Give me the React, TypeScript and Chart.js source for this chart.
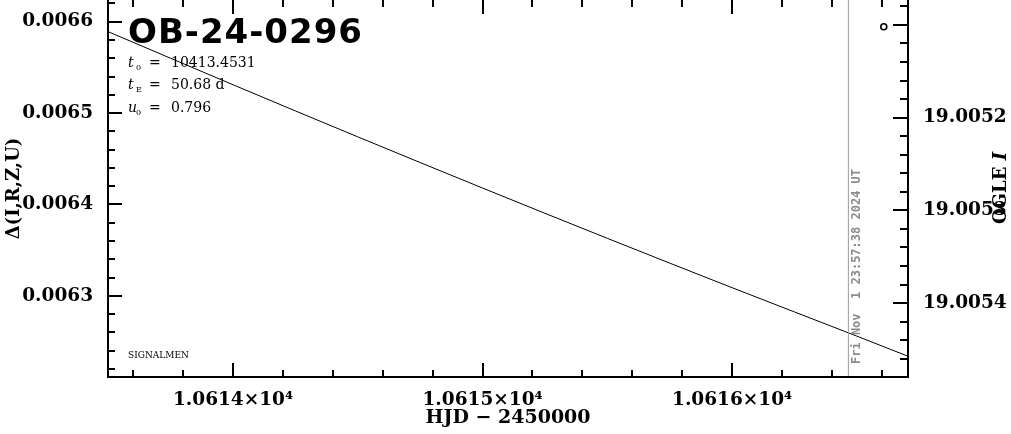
import React, { useEffect, useRef } from 'react';
import { Chart, registerables } from 'chart.js';

Chart.register(...registerables);

// ---- data ----
const modelHJD = [10613.5, 10614.0, 10614.5, 10615.0, 10615.5, 10616.0, 10616.5, 10616.705];
const modelDelta = [0.006589, 0.006531, 0.006474, 0.006418, 0.006363, 0.006309, 0.006256, 0.006234];
const ogleHJD = [10616.608];
const ogleMag = [19.005102];
const nowHJD = 10616.466;
const nowLabel = 'Fri Nov  1 23:57:38 2024 UT';
const eventName = 'OB-24-0296';
const paramSymbols = ['t', 't', 'u'];
const paramSubscripts = ['0', 'E', '0'];
const paramValues = ['10413.4531', '50.68 d', '0.796'];
const footerText = 'SIGNALMEN';

const xTickValues = [10614, 10615, 10616];
const xTickLabels = ['1.0614×10⁴', '1.0615×10⁴', '1.0616×10⁴'];
const yTickValues = [0.0063, 0.0064, 0.0065, 0.0066];
const yTickLabels = ['0.0063', '0.0064', '0.0065', '0.0066'];
const magTickValues = [19.0052, 19.0053, 19.0054];
const magTickLabels = ['19.0052', '19.0053', '19.0054'];

const xRange = [10613.499, 10616.705];
const yRange = [0.0062113, 0.0066237];
const magRange = [19.0050732, 19.0054797];

const xMajorStep = 1;
const xMinorStep = 0.2;
const yMajorStep = 0.0001;
const yMinorStep = 0.00002;

const TICK_FONT = { family: 'DejaVu Serif', weight: 'bold' as const, size: 18.5 };

function drawAxisTicks(
  min: number,
  max: number,
  major: number,
  minor: number,
  toPx: (v: number) => number,
  draw: (p: number, len: number) => void
) {
  const kStart = Math.ceil(min / minor - 1e-6);
  const kEnd = Math.floor(max / minor + 1e-6);
  for (let k = kStart; k <= kEnd; k++) {
    const v = k * minor;
    const r = v / major;
    const isMajor = Math.abs(r - Math.round(r)) < 1e-6;
    draw(toPx(v), isMajor ? 14 : 7);
  }
}

const framePlugin = {
  id: 'frameAndText',
  afterDraw(chart: any) {
    const { ctx, chartArea, scales } = chart;
    const { left, right, top, bottom } = chartArea;
    const xs = scales.x;
    const ys = scales.y;
    const ms = scales.y1;
    ctx.save();
    ctx.strokeStyle = '#000';
    ctx.lineWidth = 2;
    ctx.beginPath();
    ctx.moveTo(left, top - 2);
    ctx.lineTo(left, bottom);
    ctx.lineTo(right, bottom);
    ctx.lineTo(right, top - 2);
    ctx.stroke();

    ctx.lineWidth = 2;
    ctx.beginPath();
    drawAxisTicks(xs.min, xs.max, xMajorStep, xMinorStep, (v) => xs.getPixelForValue(v), (p, len) => {
      ctx.moveTo(Math.round(p), bottom);
      ctx.lineTo(Math.round(p), bottom - len);
      ctx.moveTo(Math.round(p), top);
      ctx.lineTo(Math.round(p), top + len);
    });
    drawAxisTicks(ys.min, ys.max, yMajorStep, yMinorStep, (v) => ys.getPixelForValue(v), (p, len) => {
      ctx.moveTo(left, Math.round(p));
      ctx.lineTo(left + len, Math.round(p));
    });
    drawAxisTicks(ms.min, ms.max, yMajorStep, yMinorStep, (v) => ms.getPixelForValue(v), (p, len) => {
      ctx.moveTo(right, Math.round(p));
      ctx.lineTo(right - len - 1, Math.round(p));
    });
    ctx.stroke();

    // event name
    ctx.fillStyle = '#000';
    ctx.textBaseline = 'alphabetic';
    ctx.textAlign = 'left';
    ctx.font = 'bold 34px "DejaVu Sans"';
    ctx.letterSpacing = '1px';
    ctx.fillText(eventName, 128, 43);
    ctx.letterSpacing = '0px';

    // parameters
    const baselines = [67, 89, 111.5];
    paramSymbols.forEach((s, i) => {
      const b = baselines[i];
      ctx.font = 'italic 14px "DejaVu Serif"';
      ctx.fillText(s, 128, b);
      ctx.font = '8px "DejaVu Serif"';
      ctx.fillText(paramSubscripts[i], 136, b + 3);
      ctx.font = '14px "DejaVu Serif"';
      ctx.fillText('=', 149, b);
      ctx.fillText(paramValues[i], 171, b);
    });

    // footer
    ctx.font = '9px "DejaVu Serif"';
    ctx.fillText(footerText, 128, 358);

    // current-time label
    const nx = xs.getPixelForValue(nowHJD);
    ctx.save();
    ctx.translate(nx + 12, bottom - 13);
    ctx.rotate(-Math.PI / 2);
    ctx.fillStyle = '#8c8c8c';
    ctx.font = 'bold 12px "DejaVu Sans Mono"';
    ctx.textBaseline = 'alphabetic';
    ctx.fillText(nowLabel, 0, 0);
    ctx.restore();

    // right axis title
    ctx.save();
    ctx.translate(1001, 188);
    ctx.rotate(-Math.PI / 2);
    ctx.fillStyle = '#000';
    ctx.textBaseline = 'middle';
    const a = 'OGLE ';
    ctx.font = 'bold 18px "DejaVu Serif"';
    const wa = ctx.measureText(a).width;
    ctx.font = 'italic bold 18px "DejaVu Serif"';
    const wb = ctx.measureText('I').width;
    const start = -(wa + wb) / 2;
    ctx.font = 'bold 18px "DejaVu Serif"';
    ctx.fillText(a, start, 0);
    ctx.font = 'italic bold 18px "DejaVu Serif"';
    ctx.fillText('I', start + wa, 0);
    ctx.restore();

    ctx.restore();
  },
};

function fixVertical(width: number) {
  return (s: any) => {
    s.width = width;
    s.paddingTop = 0;
    s.paddingBottom = 0;
  };
}

export default function App() {
  const ref = useRef<HTMLCanvasElement | null>(null);

  useEffect(() => {
    if (!ref.current) return;
    const chart = new Chart(ref.current, {
      type: 'scatter',
      data: {
        datasets: [
          {
            label: 'now',
            data: [
              { x: nowHJD, y: yRange[0] },
              { x: nowHJD, y: yRange[1] },
            ],
            showLine: true,
            borderColor: '#9a9a9a',
            borderWidth: 1,
            pointRadius: 0,
            yAxisID: 'y',
          },
          {
            label: 'model',
            data: modelHJD.map((x, i) => ({ x, y: modelDelta[i] })),
            showLine: true,
            borderColor: '#000',
            borderWidth: 1,
            pointRadius: 0,
            cubicInterpolationMode: 'monotone',
            yAxisID: 'y',
          },
          {
            label: 'OGLE I',
            data: ogleHJD.map((x, i) => ({ x, y: ogleMag[i] })),
            showLine: false,
            pointRadius: 3,
            borderWidth: 1.6,
            borderColor: '#000',
            backgroundColor: 'rgba(255,255,255,0)',
            yAxisID: 'y1',
          },
        ],
      },
      options: {
        animation: false,
        responsive: false,
        devicePixelRatio: 1,
        layout: { padding: 0, autoPadding: false },
        plugins: { legend: { display: false }, tooltip: { enabled: false } },
        scales: {
          x: {
            type: 'linear',
            position: 'bottom',
            min: xRange[0],
            max: xRange[1],
            grid: { display: false, drawTicks: false },
            border: { display: false },
            afterBuildTicks: (s: any) => {
              s.ticks = xTickValues.map((v) => ({ value: v }));
            },
            afterFit: (s: any) => {
              s.height = 57;
              s.paddingLeft = 0;
              s.paddingRight = 0;
            },
            ticks: {
              padding: 12,
              maxRotation: 0,
              autoSkip: false,
              color: '#000',
              font: TICK_FONT,
              callback: (v: any) => {
                const i = xTickValues.findIndex((t) => Math.abs(t - Number(v)) < 1e-6);
                return i >= 0 ? xTickLabels[i] : '';
              },
            },
            title: {
              display: true,
              text: 'HJD − 2450000',
              color: '#000',
              font: { family: 'DejaVu Serif', weight: 'bold', size: 19 },
              padding: { top: 0, bottom: 5 },
            },
          },
          y: {
            type: 'linear',
            position: 'left',
            min: yRange[0],
            max: yRange[1],
            grid: { display: false, drawTicks: false },
            border: { display: false },
            afterBuildTicks: (s: any) => {
              s.ticks = yTickValues.map((v) => ({ value: v }));
            },
            afterFit: fixVertical(108),
            ticks: {
              padding: 15,
              autoSkip: false,
              color: '#000',
              font: TICK_FONT,
              callback: (v: any) => {
                const i = yTickValues.findIndex((t) => Math.abs(t - Number(v)) < 1e-9);
                return i >= 0 ? yTickLabels[i] : '';
              },
            },
            title: {
              display: true,
              text: 'Δ(I,R,Z,U)',
              color: '#000',
              font: { family: 'DejaVu Serif', weight: 'bold', size: 18 },
              padding: { top: 4, bottom: 0 },
            },
          },
          y1: {
            type: 'linear',
            position: 'right',
            reverse: true,
            min: magRange[0],
            max: magRange[1],
            grid: { display: false, drawTicks: false },
            border: { display: false },
            afterBuildTicks: (s: any) => {
              s.ticks = magTickValues.map((v) => ({ value: v }));
            },
            afterFit: fixVertical(103),
            ticks: {
              padding: 15,
              autoSkip: false,
              color: '#000',
              font: TICK_FONT,
              callback: (v: any) => {
                const i = magTickValues.findIndex((t) => Math.abs(t - Number(v)) < 1e-9);
                return i >= 0 ? magTickLabels[i] : '';
              },
            },
          },
        },
      },
      plugins: [framePlugin],
    } as any);
    return () => chart.destroy();
  }, []);

  return (
    <div style={{ position: 'absolute', left: 0, top: 0, width: 1011, height: 434, background: '#fff' }}>
      <canvas ref={ref} width={1011} height={434} style={{ display: 'block', width: 1011, height: 434 }} />
    </div>
  );
}
